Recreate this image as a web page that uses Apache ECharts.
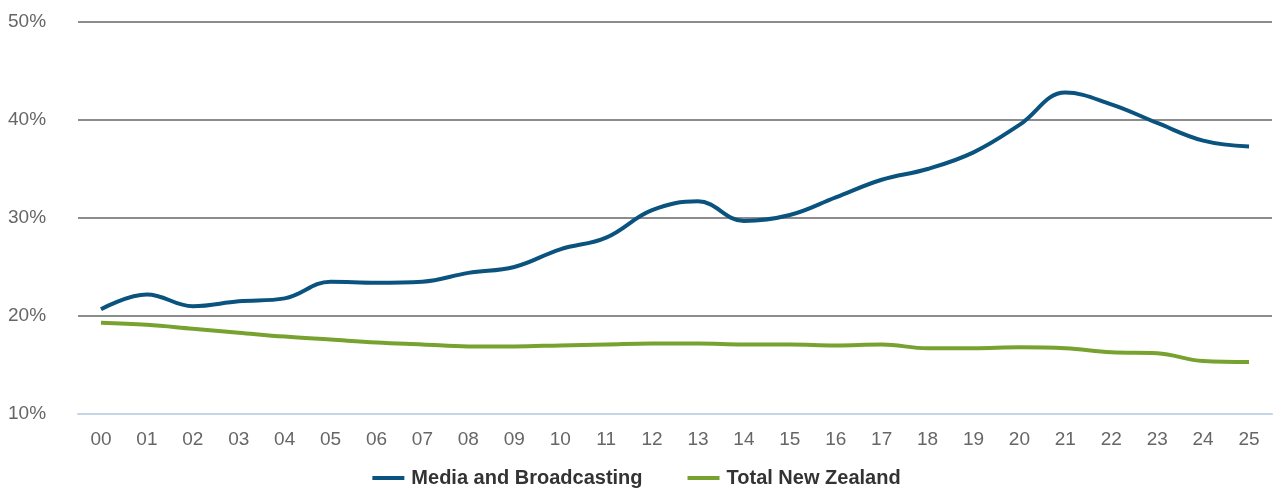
<!DOCTYPE html>
<html>
<head>
<meta charset="utf-8">
<script src="https://cdn.jsdelivr.net/npm/echarts@6/dist/echarts.min.js"></script>
<style>
  html, body { margin: 0; padding: 0; background: #fff; }
  #chart { width: 1273px; height: 489px; }
</style>
</head>
<body>
<div id="chart"></div>
<script>
// year labels
var years = ["00", "01", "02", "03", "04", "05", "06", "07", "08", "09", "10", "11", "12",
  "13", "14", "15", "16", "17", "18", "19", "20", "21", "22", "23", "24", "25"];

// share (%)
var media = [20.7, 22.2, 21.0, 21.5, 21.8, 23.5, 23.4, 23.5, 24.4, 25.0, 26.8, 28.0, 30.8,
  31.7, 29.7, 30.3, 32.1, 33.9, 35.0, 36.7, 39.5, 42.8, 41.6, 39.7, 37.9, 37.3];
var totalNZ = [19.3, 19.1, 18.7, 18.3, 17.9, 17.6, 17.3, 17.1, 16.9, 16.9, 17.0, 17.1, 17.2,
  17.2, 17.1, 17.1, 17.0, 17.1, 16.7, 16.7, 16.8, 16.7, 16.3, 16.2, 15.4, 15.3];

var myChart = echarts.init(document.getElementById("chart"));

var option = {
  animation: false,
  textStyle: { fontFamily: "Arial, 'Liberation Sans', sans-serif" },
  grid: { left: 78, right: 1, top: 22, bottom: 75 },
  legend: {
    top: 468,
    padding: 0,
    left: "center",
    itemGap: 45,
    itemWidth: 32,
    itemHeight: 4,
    icon: "rect",
    textStyle: { fontSize: 20, fontWeight: "bold", color: "#333", padding: [0, 0, 0, 2] },
    data: ["Media and Broadcasting", "Total New Zealand"],
  },
  xAxis: {
    type: "category",
    data: years,
    boundaryGap: true,
    axisLine: { lineStyle: { color: "#c6d4e8", width: 2 } },
    axisTick: { show: false },
    axisLabel: { color: "#666", fontSize: 19, margin: 16 },
  },
  yAxis: {
    type: "value",
    min: 10,
    max: 50,
    interval: 10,
    axisLine: { show: false },
    axisTick: { show: false },
    splitLine: { lineStyle: { color: "#8c8c8c", width: 2 } },
    axisLabel: {
      color: "#666",
      fontSize: 19,
      align: "left",
      margin: 70,
      formatter: "{value}%",
    },
  },
  series: [
    {
      name: "Media and Broadcasting",
      type: "line",
      data: media,
      smooth: 0.4,
      showSymbol: false,
      lineStyle: { color: "#0b537f", width: 4 },
      itemStyle: { color: "#0b537f" },
    },
    {
      name: "Total New Zealand",
      type: "line",
      data: totalNZ,
      smooth: 0.4,
      showSymbol: false,
      lineStyle: { color: "#78a22f", width: 4 },
      itemStyle: { color: "#78a22f" },
    },
  ],
};

myChart.setOption(option);
</script>
</body>
</html>
